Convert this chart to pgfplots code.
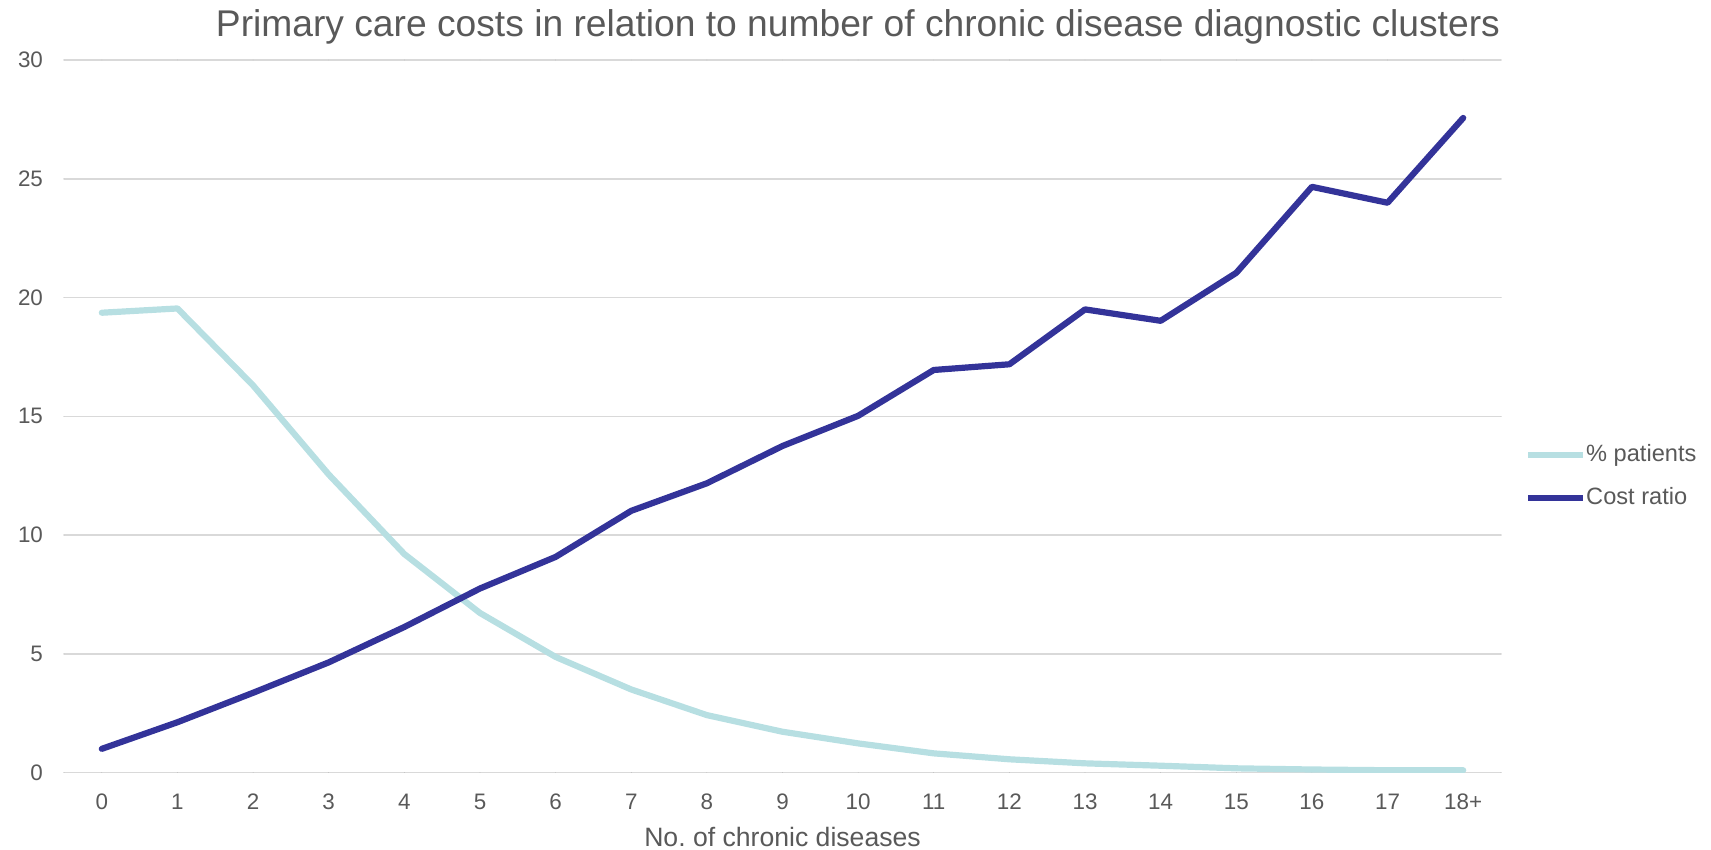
\documentclass[border=0pt]{standalone}
\usepackage{fontspec}
\setmainfont{Liberation Sans}
\usepackage{pgfplots}
\pgfplotsset{compat=1.18}
\definecolor{txtgray}{HTML}{595959}
\definecolor{gridgray}{HTML}{D9D9D9}
\definecolor{lightteal}{HTML}{B7DFE2}
\definecolor{darkblue}{HTML}{333399}
\begin{document}
\frenchspacing
\begin{tikzpicture}
\useasboundingbox (0,0) rectangle (855.5pt,425pt);
\begin{axis}[
  at={(32pt,38.7pt)}, anchor=south west,
  scale only axis, width=718.5pt, height=356.3pt,
  xmin=-0.5, xmax=18.5, ymin=0, ymax=30,
  xtick={0,...,18},
  xticklabels={0,1,2,3,4,5,6,7,8,9,10,11,12,13,14,15,16,17,18+},
  ytick={0,5,10,15,20,25,30},
  axis line style={draw=none},
  major tick length=0pt,
  ymajorgrids, grid style={gridgray, line width=0.75pt},
  /pgf/number format/assume math mode=true,
  ticklabel style={text=txtgray, font=\fontsize{11.2}{13}\selectfont},
  xticklabel style={anchor=base, yshift=-18.2pt},
  yticklabel style={anchor=east, xshift=-7.0pt},
  every axis title shift=0pt,
  title={Primary care costs in relation to number of chronic disease diagnostic clusters},
  title style={at={(axis description cs:0.5525,1.0327)}, anchor=base, text=txtgray, font=\fontsize{18.6}{22}\selectfont},
  xlabel={No.\ of chronic diseases},
  xlabel style={at={(axis description cs:0.5,0)}, anchor=base, yshift=-37pt, text=txtgray, font=\fontsize{13.3}{16}\selectfont},
  legend cell align=left,
  legend image code/.code={\draw[#1] (0pt,0pt) -- (27.5pt,0pt);},
  legend style={at={(axis description cs:1.0167,0.4155)}, anchor=west, draw=none, fill=none,
    inner sep=0pt, outer sep=0pt, row sep=9.5pt, column sep=0pt,
    font=\fontsize{11.8}{14}\selectfont, text=txtgray,
    nodes={inner sep=0pt, text height=9pt, text depth=3pt}},
  line join=round, line cap=round,
]
\addplot[lightteal, line width=3.1pt] coordinates {
(0,19.36) (1,19.54) (2,16.3) (3,12.55) (4,9.2) (5,6.72) (6,4.87) (7,3.5) (8,2.42) (9,1.72)
(10,1.23) (11,0.81) (12,0.56) (13,0.39) (14,0.29) (15,0.18) (16,0.13) (17,0.10) (18,0.10)};
\addlegendentry{\% patients}
\addplot[darkblue, line width=3.1pt] coordinates {
(0,1.0) (1,2.12) (2,3.36) (3,4.64) (4,6.13) (5,7.75) (6,9.08) (7,11.02) (8,12.18) (9,13.75)
(10,15.02) (11,16.95) (12,17.19) (13,19.5) (14,19.02) (15,21.04) (16,24.66) (17,23.99) (18,27.56)};
\addlegendentry{Cost ratio}
\end{axis}
\end{tikzpicture}
\end{document}
